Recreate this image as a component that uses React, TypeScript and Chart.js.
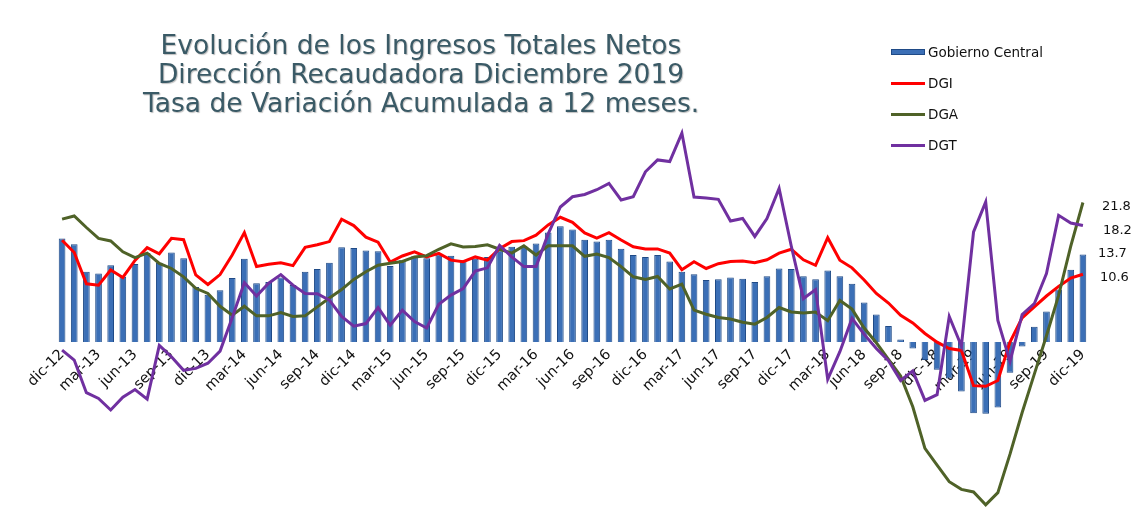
import React, { useEffect, useRef } from 'react';
import { Chart, registerables } from 'chart.js';

Chart.register(...registerables);

const months = [
  'dic-12',
  'ene-13', 'feb-13', 'mar-13', 'abr-13', 'may-13', 'jun-13', 'jul-13', 'ago-13', 'sep-13', 'oct-13', 'nov-13', 'dic-13',
  'ene-14', 'feb-14', 'mar-14', 'abr-14', 'may-14', 'jun-14', 'jul-14', 'ago-14', 'sep-14', 'oct-14', 'nov-14', 'dic-14',
  'ene-15', 'feb-15', 'mar-15', 'abr-15', 'may-15', 'jun-15', 'jul-15', 'ago-15', 'sep-15', 'oct-15', 'nov-15', 'dic-15',
  'ene-16', 'feb-16', 'mar-16', 'abr-16', 'may-16', 'jun-16', 'jul-16', 'ago-16', 'sep-16', 'oct-16', 'nov-16', 'dic-16',
  'ene-17', 'feb-17', 'mar-17', 'abr-17', 'may-17', 'jun-17', 'jul-17', 'ago-17', 'sep-17', 'oct-17', 'nov-17', 'dic-17',
  'ene-18', 'feb-18', 'mar-18', 'abr-18', 'may-18', 'jun-18', 'jul-18', 'ago-18', 'sep-18', 'oct-18', 'nov-18', 'dic-18',
  'ene-19', 'feb-19', 'mar-19', 'abr-19', 'may-19', 'jun-19', 'jul-19', 'ago-19', 'sep-19', 'oct-19', 'nov-19', 'dic-19',
];

const gobiernoCentral = [
  16.2,
  15.3, 11.0, 10.7, 12.0, 10.2, 12.2, 13.9, 12.4, 14.0, 13.1, 8.6, 7.4,
  8.1, 10.0, 13.0, 9.2, 9.4, 10.1, 8.9, 11.0, 11.4, 12.4, 14.8, 14.7,
  14.3, 14.2, 11.9, 12.8, 13.4, 13.1, 13.7, 13.5, 12.8, 13.0, 13.3, 14.3,
  14.9, 15.0, 15.4, 17.1, 18.1, 17.6, 16.0, 15.7, 16.0, 14.6, 13.6, 13.3,
  13.6, 12.6, 11.0, 10.6, 9.7, 9.8, 10.1, 9.9, 9.4, 10.3, 11.5, 11.4,
  10.3, 9.8, 11.2, 10.3, 9.1, 6.2, 4.3, 2.5, 0.4, -1.0, -2.8, -4.3,
  -5.7, -7.7, -11.1, -11.2, -10.2, -4.8, -0.7, 2.4, 4.8, 8.2, 11.3, 13.7,
];

const dgi = [
  15.9,
  14.0, 9.1, 8.9, 11.25, 10.1, 12.75, 14.75, 13.8, 16.2, 16.0, 10.5, 9.0,
  10.55, 13.6, 17.1, 11.8, 12.15, 12.4, 11.95, 14.8, 15.2, 15.7, 19.2, 18.2,
  16.4, 15.6, 12.5, 13.45, 14.1, 13.3, 13.85, 12.8, 12.55, 13.3, 12.8, 14.6,
  15.7, 15.85, 16.7, 18.3, 19.5, 18.7, 17.05, 16.25, 17.1, 15.95, 14.9, 14.55,
  14.55, 13.9, 11.3, 12.55, 11.5, 12.25, 12.6, 12.65, 12.4, 12.85, 13.9, 14.5,
  12.85, 12.0, 16.3, 12.8, 11.6, 9.7, 7.6, 6.1, 4.2, 3.0, 1.35, 0.0,
  -1.0, -1.3, -6.8, -6.9, -6.0, 0.0, 3.8, 5.5, 7.2, 8.7, 10.0, 10.6,
];

const dga = [
  19.2,
  19.7, 17.9, 16.2, 15.8, 14.1, 13.2, 13.9, 12.3, 11.5, 10.2, 8.4, 7.6,
  5.6, 4.2, 5.6, 4.1, 4.1, 4.6, 4.0, 4.1, 5.5, 6.9, 8.2, 9.8,
  11.0, 12.0, 12.3, 12.6, 13.3, 13.5, 14.5, 15.35, 14.85, 14.95, 15.2, 14.5,
  13.9, 15.05, 13.6, 15.05, 15.05, 15.05, 13.4, 13.75, 13.2, 11.8, 10.2, 9.8,
  10.25, 8.3, 9.05, 5.0, 4.35, 3.85, 3.6, 3.1, 2.8, 3.85, 5.4, 4.7,
  4.55, 4.7, 3.35, 6.5, 5.15, 2.2, -0.1, -2.7, -5.3, -10.1, -16.6, -19.2,
  -21.8, -23.0, -23.4, -25.4, -23.5, -17.5, -11.0, -5.0, 1.0, 7.3, 15.0, 21.8,
];

const dgt = [
  -1.25,
  -2.8, -7.9, -8.8, -10.6, -8.6, -7.4, -8.9, -0.5, -2.3, -4.4, -4.1, -3.3,
  -1.4, 3.8, 9.3, 7.2, 9.2, 10.55, 8.9, 7.6, 7.55, 6.55, 4.0, 2.5,
  2.9, 5.4, 2.65, 5.0, 3.2, 2.2, 5.9, 7.35, 8.35, 11.1, 11.6, 15.1,
  13.3, 11.8, 11.8, 16.9, 21.1, 22.7, 23.05, 23.8, 24.8, 22.2, 22.7, 26.6,
  28.45, 28.2, 32.65, 22.65, 22.5, 22.3, 18.9, 19.3, 16.5, 19.3, 24.0, 15.0,
  6.8, 8.2, -5.8, -1.5, 3.7, 1.2, -1.0, -2.9, -6.0, -4.5, -9.1, -8.2,
  4.0, -0.6, 17.2, 21.9, 3.4, -3.0, 4.3, 6.0, 10.7, 19.8, 18.6, 18.2,
];

const seriesNames = ['Gobierno Central', 'DGI', 'DGA', 'DGT'];
const seriesColors = ['#3b6fb6', '#ff0000', '#4f6228', '#7030a0'];
const titleLines = [
  'Evolución de los Ingresos Totales Netos',
  'Dirección Recaudadora Diciembre 2019',
  'Tasa de Variación Acumulada a 12 meses.',
];
// [dx, dy] nudges of the final-value labels, per dataset
const endLabelOffsets = [
  [15, -1],
  [17, 3],
  [19, 4],
  [20, 5],
];

const FONT = '"DejaVu Sans", "Liberation Sans", sans-serif';

const endLabelPlugin = {
  id: 'endLabels',
  afterDatasetsDraw(chart: any) {
    const ctx = chart.ctx;
    ctx.save();
    ctx.font = '13px "DejaVu Sans"';
    ctx.fillStyle = '#111';
    ctx.textBaseline = 'middle';
    ctx.textAlign = 'left';
    chart.data.datasets.forEach((ds: any, i: number) => {
      const meta = chart.getDatasetMeta(i);
      const n = ds.data.length - 1;
      const el = meta.data[n];
      if (!el) return;
      const off = endLabelOffsets[i];
      ctx.fillText(Number(ds.data[n]).toFixed(1), el.x + off[0], el.y + off[1]);
    });
    ctx.restore();
  },
};

export default function App() {
  const canvasRef = useRef<HTMLCanvasElement | null>(null);

  useEffect(() => {
    if (!canvasRef.current) return;
    const line = (label: string, data: number[], color: string, order: number) => ({
      type: 'line' as const,
      label,
      data,
      borderColor: color,
      backgroundColor: color,
      borderWidth: 3,
      pointRadius: 0,
      tension: 0,
      fill: false,
      order,
    });
    const chart = new Chart(canvasRef.current, {
      type: 'bar',
      data: {
        labels: months,
        datasets: [
          {
            type: 'bar' as const,
            label: seriesNames[0],
            data: gobiernoCentral,
            backgroundColor: seriesColors[0],
            borderColor: '#1f4a86',
            borderWidth: 1,
            barPercentage: 0.55,
            categoryPercentage: 1,
            order: 10,
          },
          line(seriesNames[1], dgi, seriesColors[1], 3),
          line(seriesNames[2], dga, seriesColors[2], 2),
          line(seriesNames[3], dgt, seriesColors[3], 1),
        ] as any,
      },
      options: {
        animation: false,
        responsive: false,
        layout: { padding: { left: 56, right: 42, top: 118, bottom: 14 } },
        plugins: {
          legend: { display: false },
          title: { display: false },
          tooltip: { enabled: false },
        },
        scales: {
          x: {
            type: 'category',
            offset: true,
            position: { y: 0 } as any,
            grid: { display: false, drawTicks: false },
            border: { display: false },
            ticks: {
              autoSkip: false,
              maxRotation: 45,
              minRotation: 45,
              padding: 4,
              color: '#111',
              font: { family: FONT, size: 14.5 },
              callback: (_v: any, i: number) => (i % 3 === 0 ? months[i] : ''),
            },
            afterFit: (scale: any) => {
              scale.height = 0;
            },
          },
          y: {
            display: false,
            min: -27,
            max: 35,
          },
        },
      } as any,
      plugins: [endLabelPlugin],
    });
    return () => chart.destroy();
  }, []);

  const legendRow = (i: number, top: number) => (
    <div
      key={i}
      style={{
        position: 'absolute',
        left: 891,
        top,
        height: 20,
        display: 'flex',
        alignItems: 'center',
        fontFamily: FONT,
        fontSize: 13.5,
        color: '#111',
        whiteSpace: 'nowrap',
      }}
    >
      <span
        style={{
          display: 'inline-block',
          width: 34,
          height: i === 0 ? 6 : 3,
          background: seriesColors[i],
          border: i === 0 ? '1px solid #1f4a86' : 'none',
          boxSizing: 'border-box',
          marginRight: 3,
        }}
      />
      <span>{seriesNames[i]}</span>
    </div>
  );

  return (
    <div style={{ position: 'absolute', left: 0, top: 0, width: 1131, height: 529, background: '#fff' }}>
      <canvas ref={canvasRef} width={1131} height={529} style={{ position: 'absolute', left: 0, top: 0 }} />
      <div
        style={{
          position: 'absolute',
          left: 0,
          width: 842,
          top: 30,
          textAlign: 'center',
          fontFamily: FONT,
          fontSize: 26.5,
          lineHeight: '29px',
          color: '#3a5a66',
          textShadow: '1px 1px 1px rgba(0,0,0,0.25)',
        }}
      >
        {titleLines.map((t) => (
          <div key={t}>{t}</div>
        ))}
      </div>
      {[42, 73, 104, 135].map((top, i) => legendRow(i, top))}
    </div>
  );
}
